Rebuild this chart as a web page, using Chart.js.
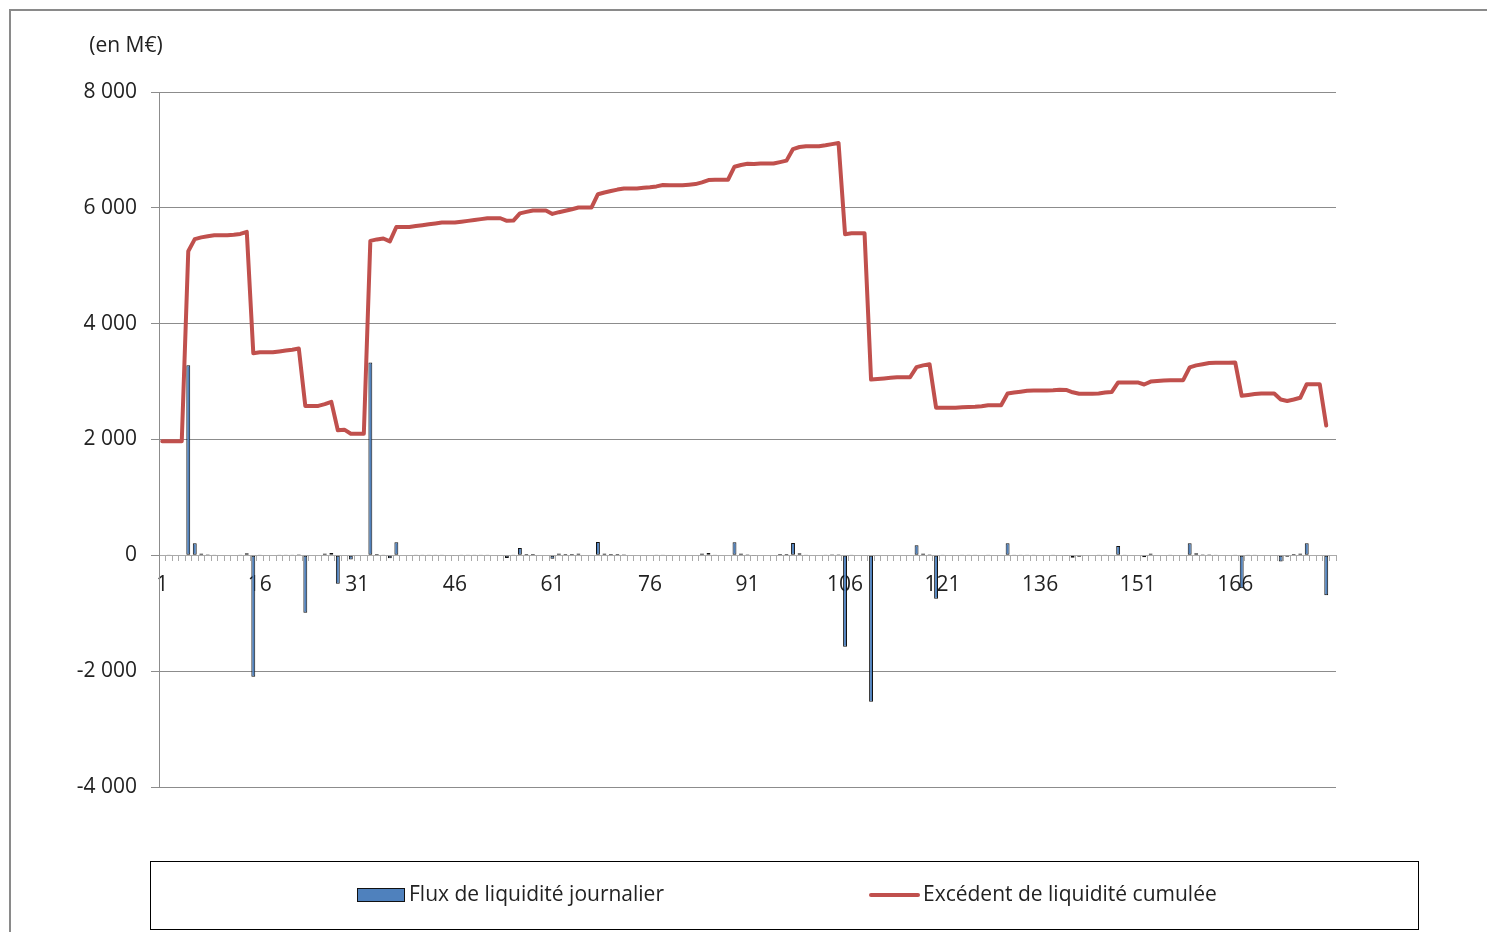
<!DOCTYPE html>
<html>
<head>
<meta charset="utf-8">
<script src="https://cdn.jsdelivr.net/npm/chart.js@4"></script>
<style>
  html, body { margin: 0; padding: 0; background: #fff; overflow: hidden; width: 1487px; height: 932px; }
  #frame { position: absolute; left: 9px; top: 9px; width: 2000px; height: 2000px; border-top: 2px solid #8a8a8a; border-left: 2px solid #8a8a8a; box-sizing: border-box; }
  #c { position: absolute; left: 0; top: 0; }
</style>
</head>
<body>
<div id="frame"></div>
<canvas id="c" width="1487" height="932"></canvas>
<script>
// ---- Data ----
const unitLabel = "(en M€)";
const seriesNames = ["Flux de liquidité journalier", "Excédent de liquidité cumulée"];

// Categories 1..181 (days)
const categories = [];
for (let d = 1; d <= 181; d++) categories.push(String(d));

// Daily liquidity flow (M€), null = no flow shown
const dailyFlow = [
  10, 5, null, null, 3280, 210, 30, 20, 15, null,
  null, 10, 15, 35, -2095, 15, null, null, 15, 15,
  15, 20, -990, null, null, 30, 40, -490, 10, -70,
  null, null, 3330, 25, 15, -50, 225, null, null, 15,
  15, 15, 15, 15, null, null, 15, 15, 15, 15,
  15, null, null, -45, 5, 125, 25, 25, null, null,
  -60, 30, 25, 25, 30, null, null, 230, 30, 25,
  25, 20, null, null, 10, 10, 15, 15, -10, null,
  null, 10, 10, 30, 40, 5, null, null, 225, 30,
  20, -10, 10, null, null, 25, 25, 215, 35, 15,
  null, null, 15, 20, 20, -1580, 15, null, null, -2530,
  10, 10, 10, 10, null, null, 175, 30, 20, -750,
  5, null, null, 5, 5, 5, 10, 15, null, null,
  210, 15, 15, 15, 5, null, null, 5, 10, -5,
  -40, -25, null, null, 5, 15, 10, 160, 5, null,
  null, -35, 30, 10, 10, 5, null, null, 210, 35,
  20, 20, 5, null, null, 5, -570, 15, 15, 10,
  null, null, -105, -25, 25, 30, 210, null, null, -690,
  null
];

// Cumulative liquidity surplus (M€)
const cumulative = [
  1970, 1970, 1970, 1970, 5250, 5460, 5490, 5510, 5525, 5525,
  5525, 5535, 5550, 5585, 3490, 3505, 3505, 3505, 3520, 3535,
  3550, 3570, 2580, 2580, 2580, 2610, 2650, 2160, 2170, 2100,
  2100, 2100, 5430, 5455, 5470, 5420, 5670, 5670, 5670, 5685,
  5700, 5715, 5730, 5745, 5745, 5745, 5760, 5775, 5790, 5805,
  5820, 5820, 5820, 5775, 5780, 5905, 5930, 5955, 5955, 5955,
  5895, 5925, 5950, 5975, 6005, 6005, 6005, 6235, 6265, 6290,
  6315, 6335, 6335, 6335, 6345, 6355, 6370, 6395, 6390, 6390,
  6390, 6400, 6410, 6440, 6480, 6485, 6485, 6485, 6710, 6740,
  6760, 6755, 6765, 6765, 6765, 6790, 6815, 7015, 7050, 7065,
  7065, 7065, 7080, 7100, 7120, 5545, 5560, 5560, 5560, 3035,
  3045, 3055, 3065, 3075, 3075, 3075, 3250, 3280, 3300, 2550,
  2550, 2550, 2550, 2555, 2560, 2565, 2575, 2590, 2590, 2590,
  2795, 2810, 2825, 2840, 2845, 2845, 2845, 2850, 2860, 2855,
  2815, 2790, 2790, 2790, 2795, 2810, 2820, 2985, 2985, 2985,
  2985, 2950, 3000, 3010, 3020, 3025, 3025, 3025, 3245, 3280,
  3300, 3320, 3325, 3325, 3325, 3330, 2755, 2770, 2785, 2795,
  2795, 2795, 2690, 2665, 2690, 2720, 2955, 2955, 2955, 2240,
  null
];

const yTicks = [-4000, -2000, 0, 2000, 4000, 6000, 8000];
const xTickLabels = ["1", "16", "31", "46", "61", "76", "91", "106", "121", "136", "151", "166"];

// ---- Styles ----
const BAR_COLOR = '#4F81BD';
const LINE_COLOR = '#C0504D';
const GRID_COLOR = '#8c8c8c';
const TEXT_COLOR = '#222';
const FONT = '"Open Sans", "DejaVu Sans", sans-serif';

function fmt(v) {
  return String(v).replace(/\B(?=(\d{3})+(?!\d))/g, ' ');
}

const decorPlugin = {
  id: 'decor',
  afterDraw(chart) {
    const ctx = chart.ctx;
    const area = chart.chartArea;
    ctx.save();
    // unit label
    ctx.fillStyle = TEXT_COLOR;
    ctx.font = '21px ' + FONT;
    ctx.textAlign = 'center';
    ctx.textBaseline = 'middle';
    ctx.fillText(unitLabel, area.left - 33, area.top - 46);

    // legend box
    const lx = 150, ly = 861, lw = 1268, lh = 68;
    ctx.strokeStyle = '#000';
    ctx.lineWidth = 1;
    ctx.strokeRect(lx + 0.5, ly + 0.5, lw, lh);
    const cy = ly + lh / 2;
    // bar key
    ctx.fillStyle = BAR_COLOR;
    ctx.fillRect(357.5, cy - 6.5, 47, 13);
    ctx.strokeStyle = '#111';
    ctx.strokeRect(357.5, cy - 6.5, 47, 13);
    // line key
    ctx.strokeStyle = LINE_COLOR;
    ctx.lineWidth = 4;
    ctx.lineCap = 'round';
    ctx.beginPath();
    ctx.moveTo(871, cy);
    ctx.lineTo(918, cy);
    ctx.stroke();
    // texts
    ctx.fillStyle = TEXT_COLOR;
    ctx.font = '21px ' + FONT;
    ctx.textAlign = 'left';
    ctx.textBaseline = 'middle';
    ctx.fillText(chart.data.datasets[1].label, 409, cy);
    ctx.fillText(chart.data.datasets[0].label, 923, cy);
    ctx.restore();
  }
};

new Chart(document.getElementById('c'), {
  type: 'bar',
  data: {
    labels: categories,
    datasets: [
      {
        type: 'line',
        label: seriesNames[1],
        data: cumulative,
        borderColor: LINE_COLOR,
        backgroundColor: LINE_COLOR,
        borderWidth: 4,
        pointRadius: 0,
        tension: 0,
        borderJoinStyle: 'round',
        borderCapStyle: 'round',
        order: 0
      },
      {
        type: 'bar',
        label: seriesNames[0],
        data: dailyFlow,
        backgroundColor: BAR_COLOR,
        borderColor: '#111',
        borderWidth: 1,
        borderSkipped: false,
        barPercentage: 0.6,
        categoryPercentage: 1,
        order: 1
      }
    ]
  },
  options: {
    responsive: false,
    animation: false,
    devicePixelRatio: 1,
    layout: { padding: { left: 0, top: 92, right: 151, bottom: 145 } },
    plugins: {
      legend: { display: false },
      tooltip: { enabled: false },
      title: { display: false }
    },
    scales: {
      x: {
        type: 'category',
        position: { y: 0 },
        offset: true,
        grid: {
          display: true,
          drawOnChartArea: false,
          drawTicks: true,
          tickLength: 5,
          offset: true,
          color: '#aaa',
          lineWidth: 1
        },
        border: { display: true, color: '#aaa', width: 1 },
        ticks: {
          autoSkip: false,
          maxRotation: 0,
          minRotation: 0,
          padding: 12,
          color: TEXT_COLOR,
          font: { family: FONT, size: 21 },
          callback: function (val) {
            const lab = this.getLabelForValue(val);
            return xTickLabels.includes(lab) ? lab : '';
          }
        }
      },
      y: {
        min: yTicks[0],
        max: yTicks[yTicks.length - 1],
        afterBuildTicks: (scale) => { scale.ticks = yTicks.map(v => ({ value: v })); },
        afterFit: (scale) => { scale.width = 159; },
        grid: {
          color: GRID_COLOR,
          lineWidth: 1,
          drawTicks: true,
          tickLength: 8
        },
        border: { display: true, color: GRID_COLOR, width: 1 },
        ticks: {
          padding: 14,
          color: TEXT_COLOR,
          font: { family: FONT, size: 21 },
          callback: (v) => fmt(v)
        }
      }
    }
  },
  plugins: [decorPlugin]
});
</script>
</body>
</html>
